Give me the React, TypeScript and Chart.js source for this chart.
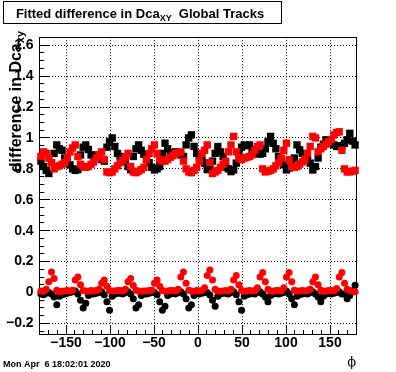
import React, { useEffect, useRef } from 'react';
import { Chart, registerables } from 'chart.js';

Chart.register(...registerables);

// ---------- data ----------
const PHI = [
  -178.5, -175.5, -172.5, -169.5, -166.5, -163.5, -160.5, -157.5, -154.5, -151.5,
  -148.5, -145.5, -142.5, -139.5, -136.5, -133.5, -130.5, -127.5, -124.5, -121.5,
  -118.5, -115.5, -112.5, -109.5, -106.5, -103.5, -100.5, -97.5, -94.5, -91.5,
  -88.5, -85.5, -82.5, -79.5, -76.5, -73.5, -70.5, -67.5, -64.5, -61.5,
  -58.5, -55.5, -52.5, -49.5, -46.5, -43.5, -40.5, -37.5, -34.5, -31.5,
  -28.5, -25.5, -22.5, -19.5, -16.5, -13.5, -10.5, -7.5, -4.5, -1.5,
  1.5, 4.5, 7.5, 10.5, 13.5, 16.5, 19.5, 22.5, 25.5, 28.5,
  31.5, 34.5, 37.5, 40.5, 43.5, 46.5, 49.5, 52.5, 55.5, 58.5,
  61.5, 64.5, 67.5, 70.5, 73.5, 76.5, 79.5, 82.5, 85.5, 88.5,
  91.5, 94.5, 97.5, 100.5, 103.5, 106.5, 109.5, 112.5, 115.5, 118.5,
  121.5, 124.5, 127.5, 130.5, 133.5, 136.5, 139.5, 142.5, 145.5, 148.5,
  151.5, 154.5, 157.5, 160.5, 163.5, 166.5, 169.5, 172.5, 175.5, 178.5,
];

const BLACK_SQUARES = [
  0.85, 0.815, 0.79, 0.77, 0.84, 0.9, 0.955, 0.93, 0.92, 0.87,
  0.85, 0.826, 0.8, 0.79, 0.795, 0.89, 0.94, 0.955, 0.925, 0.89,
  0.88, 0.89, 0.875, 0.86, 0.85, 0.94, 0.975, 1.0, 0.945, 0.9,
  0.88, 0.865, 0.85, 0.815, 0.795, 0.88, 0.93, 0.955, 0.92, 0.895,
  0.86, 0.84, 0.81, 0.793, 0.8, 0.815, 0.9, 0.966, 0.93, 0.9,
  0.905, 0.91, 0.9, 0.89, 0.88, 0.955, 1.0, 1.02, 0.945, 0.9,
  0.87, 0.86, 0.837, 0.795, 0.815, 0.85, 0.9, 0.945, 0.91, 0.88,
  0.81, 0.8, 0.782, 0.793, 0.837, 0.9, 0.94, 0.955, 0.95, 0.955,
  0.925, 0.91, 0.9, 0.895, 0.9, 0.93, 0.975, 1.01, 0.965, 0.93,
  0.88, 0.85, 0.826, 0.793, 0.805, 0.84, 0.87, 0.955, 0.923, 0.9,
  0.88, 0.86, 0.837, 0.793, 0.815, 0.87, 0.94, 0.96, 0.988, 0.975,
  0.966, 0.955, 0.945, 0.945, 0.95, 0.965, 0.988, 1.03, 0.98, 0.955,
];

const RED_SQUARES = [
  0.88, 0.91, 0.9, 0.87, 0.84, 0.8, 0.815, 0.82, 0.83, 0.84,
  0.87, 0.91, 0.935, 0.955, 0.88, 0.83, 0.815, 0.81, 0.815, 0.83,
  0.845, 0.87, 0.89, 0.91, 0.86, 0.78, 0.775, 0.78, 0.8, 0.82,
  0.84, 0.855, 0.875, 0.9, 0.815, 0.78, 0.775, 0.785, 0.795, 0.81,
  0.86, 0.9, 0.93, 0.955, 0.9, 0.86, 0.85, 0.85, 0.86, 0.875,
  0.885, 0.9, 0.905, 0.91, 0.85, 0.8, 0.78, 0.775, 0.79, 0.81,
  0.85, 0.9, 0.92, 0.955, 0.84, 0.77, 0.78, 0.79, 0.81, 0.83,
  0.85, 0.91, 0.955, 1.01, 0.91, 0.87, 0.86, 0.87, 0.875, 0.88,
  0.89, 0.92, 0.945, 0.955, 0.8, 0.78, 0.785, 0.79, 0.8, 0.82,
  0.84, 0.87, 0.92, 0.966, 0.86, 0.815, 0.81, 0.815, 0.83, 0.845,
  0.86, 0.9, 0.945, 1.01, 1.0, 0.91, 0.93, 0.945, 0.96, 0.975,
  0.99, 1.02, 1.035, 1.04, 0.92, 0.8, 0.78, 0.78, 0.785, 0.79,
];

const BLACK_CIRCLES = [
  -0.01, -0.015, -0.005, 0.0, -0.01, -0.03, -0.08, -0.025, -0.015, -0.01,
  -0.005, 0.0, 0.005, 0.01, -0.01, -0.05, -0.1, -0.07, -0.02, -0.01,
  -0.01, -0.005, 0.0, 0.005, -0.015, -0.06, -0.115, -0.025, -0.01, -0.005,
  -0.005, -0.01, 0.0, 0.005, -0.01, -0.04, -0.1, -0.08, -0.02, -0.01,
  -0.01, -0.005, 0.0, 0.0, -0.015, -0.06, -0.115, -0.09, -0.02, -0.01,
  -0.005, -0.01, 0.0, 0.005, -0.01, -0.04, -0.1, -0.08, -0.02, -0.005,
  -0.01, -0.005, 0.0, 0.0, -0.017, -0.05, -0.09, -0.025, -0.01, -0.005,
  -0.005, -0.01, 0.0, 0.005, -0.015, -0.06, -0.115, -0.025, -0.015, -0.01,
  -0.005, -0.01, 0.0, 0.005, -0.01, -0.03, -0.06, -0.02, -0.01, -0.005,
  -0.01, -0.005, 0.0, 0.01, -0.01, -0.04, -0.08, -0.025, -0.015, -0.01,
  -0.005, -0.01, 0.0, 0.005, -0.01, -0.03, -0.06, -0.025, -0.01, -0.005,
  -0.01, -0.005, 0.0, 0.005, -0.01, -0.01, -0.04, -0.02, 0.01, 0.047,
];

const RED_CIRCLES = [
  0.01, 0.008, 0.02, 0.07, 0.133, 0.09, 0.015, 0.005, 0.008, 0.01,
  0.012, 0.01, 0.015, 0.08, 0.1, 0.05, 0.012, 0.01, 0.008, 0.012,
  0.01, 0.012, 0.02, 0.06, 0.08, 0.04, 0.012, 0.01, 0.01, 0.012,
  0.012, 0.01, 0.02, 0.07, 0.09, 0.045, 0.015, 0.01, 0.008, 0.01,
  0.01, 0.012, 0.015, 0.06, 0.08, 0.04, 0.012, 0.008, 0.01, 0.012,
  0.012, 0.01, 0.02, 0.1, 0.133, 0.06, 0.015, 0.01, 0.008, 0.012,
  0.01, 0.012, 0.03, 0.11, 0.145, 0.08, 0.02, 0.01, 0.008, 0.01,
  0.012, 0.01, 0.02, 0.08, 0.11, 0.05, 0.012, 0.008, 0.01, 0.012,
  0.01, 0.012, 0.03, 0.1, 0.13, 0.07, 0.02, 0.01, 0.008, 0.012,
  0.012, 0.01, 0.03, 0.1, 0.13, 0.07, 0.015, 0.01, 0.01, 0.012,
  0.01, 0.012, 0.02, 0.07, 0.1, 0.05, 0.015, 0.008, 0.01, 0.012,
  0.012, 0.01, 0.025, 0.1, 0.13, 0.06, 0.02, 0.012, 0.008, 0.004,
];

const X_TICKS = [-150, -100, -50, 0, 50, 100, 150];
const Y_TICKS = [-0.2, 0, 0.2, 0.4, 0.6, 0.8, 1, 1.2, 1.4, 1.6];
const X_RANGE = [-180, 180];
const Y_RANGE = [-0.274, 1.652];

const TITLE_MAIN = 'Fitted difference in Dca';
const TITLE_SUB = 'XY';
const TITLE_TAIL = '  Global Tracks';
const Y_TITLE_MAIN = 'difference in Dca';
const Y_TITLE_SUB = 'xy';
const X_TITLE = '\u03D5';
const DATE_TEXT = 'Mon Apr  6 18:02:01 2020';

const FAMILY = "'Liberation Sans', Arial, Helvetica, sans-serif";

const fmt = (v: number | string) => {
  const r = Math.round(Number(v) * 1000) / 1000;
  return r < 0 ? '\u2212' + String(-r) : String(r);
};

const align = (p: number) => Math.round(p - 0.5) + 0.5;

const rootPlugin = {
  id: 'rootStyle',
  beforeDatasetsDraw(chart: any) {
    const { ctx, chartArea: a } = chart;
    const xs = chart.scales.x;
    const ys = chart.scales.y;
    const L = align(a.left), R = align(a.right), T = align(a.top), B = align(a.bottom);
    ctx.save();
    ctx.strokeStyle = '#000';
    ctx.lineWidth = 1;
    ctx.setLineDash([]);
    ctx.beginPath();
    for (let k = -18; k <= 18; k++) {
      const v = k * 10;
      if (v <= X_RANGE[0] || v >= X_RANGE[1]) continue;
      const major = X_TICKS.some((t) => Math.abs(t - v) < 1e-6);
      const px = align(xs.getPixelForValue(v));
      const len = major ? 9 : 4.5;
      ctx.moveTo(px, B);
      ctx.lineTo(px, B - len);
    }
    for (let k = -6; k <= 34; k++) {
      const v = k * 0.05;
      if (v <= Y_RANGE[0] || v >= Y_RANGE[1]) continue;
      const major = Y_TICKS.some((t) => Math.abs(t - v) < 1e-6);
      const py = align(ys.getPixelForValue(v));
      const len = major ? 9.5 : 4.75;
      ctx.moveTo(L, py);
      ctx.lineTo(L + len, py);
    }
    ctx.stroke();
    ctx.strokeRect(L, T, R - L, B - T);
    ctx.restore();
  },
  afterDraw(chart: any) {
    const { ctx } = chart;
    ctx.save();
    ctx.setLineDash([]);
    // title box
    ctx.fillStyle = '#fff';
    ctx.fillRect(3.5, 1.5, 278, 22);
    ctx.strokeStyle = '#000';
    ctx.lineWidth = 1;
    ctx.strokeRect(3.5, 1.5, 278, 22);
    const mainFont = `bold 13px ${FAMILY}`;
    const subFont = `bold 9px ${FAMILY}`;
    ctx.fillStyle = '#000';
    ctx.textBaseline = 'alphabetic';
    ctx.textAlign = 'left';
    ctx.font = mainFont;
    const w1 = ctx.measureText(TITLE_MAIN).width;
    const w3 = ctx.measureText(TITLE_TAIL).width;
    ctx.font = subFont;
    const w2 = ctx.measureText(TITLE_SUB).width;
    const tx = 140 - (w1 + w2 + w3) / 2;
    ctx.font = mainFont;
    ctx.fillText(TITLE_MAIN, tx, 17.5);
    ctx.font = subFont;
    ctx.fillText(TITLE_SUB, tx + w1, 21);
    ctx.font = mainFont;
    ctx.fillText(TITLE_TAIL, tx + w1 + w2, 17.5);

    // y-axis title (rotated, right-aligned at top)
    const yMain = `bold 16px ${FAMILY}`;
    const ySub = `bold 11px ${FAMILY}`;
    ctx.font = yMain;
    const yw1 = ctx.measureText(Y_TITLE_MAIN).width;
    ctx.font = ySub;
    const yw2 = ctx.measureText(Y_TITLE_SUB).width;
    ctx.save();
    ctx.translate(21, 31);
    ctx.rotate(-Math.PI / 2);
    const start = -(yw1 + yw2);
    ctx.font = yMain;
    ctx.fillText(Y_TITLE_MAIN, start, 0);
    ctx.font = ySub;
    ctx.fillText(Y_TITLE_SUB, start + yw1, 3);
    ctx.restore();

    // x-axis title
    ctx.font = `13px 'DejaVu Serif', serif`;
    ctx.textAlign = 'right';
    ctx.fillText(X_TITLE, 356, 366);

    // date stamp
    ctx.font = `bold 9px ${FAMILY}`;
    ctx.textAlign = 'left';
    ctx.fillText(DATE_TEXT, 3, 367);
    ctx.restore();
  },
};

export default function App() {
  const ref = useRef<HTMLCanvasElement | null>(null);

  useEffect(() => {
    if (!ref.current) return;
    const mk = (ys: number[]) => PHI.map((x, i) => ({ x, y: ys[i] }));
    const tickFont = { family: FAMILY, size: 14, weight: 'bold' as const };
    // Chart.js paints the lowest "order" last (on top): red is painted over black.
    const chart = new Chart(ref.current, {
      type: 'scatter',
      data: {
        datasets: [
          {
            label: 'black squares',
            data: mk(BLACK_SQUARES),
            pointStyle: 'rect',
            pointRadius: 5.2,
            pointBackgroundColor: '#000000',
            pointBorderWidth: 0,
            clip: false,
            order: 2,
          },
          {
            label: 'red squares',
            data: mk(RED_SQUARES),
            pointStyle: 'rect',
            pointRadius: 5.2,
            pointBackgroundColor: '#ff0000',
            pointBorderWidth: 0,
            clip: false,
            order: 1,
          },
          {
            label: 'black circles',
            data: mk(BLACK_CIRCLES),
            pointStyle: 'circle',
            pointRadius: 3.5,
            pointBackgroundColor: '#000000',
            pointBorderWidth: 0,
            clip: false,
            order: 2,
          },
          {
            label: 'red circles',
            data: mk(RED_CIRCLES),
            pointStyle: 'circle',
            pointRadius: 3.5,
            pointBackgroundColor: '#ff0000',
            pointBorderWidth: 0,
            clip: false,
            order: 1,
          },
        ] as any,
      },
      options: {
        responsive: false,
        animation: false,
        devicePixelRatio: 1,
        events: [],
        layout: { padding: { left: 0, right: 39.6, top: 37.2, bottom: 0 } },
        plugins: {
          legend: { display: false },
          tooltip: { enabled: false },
          title: { display: false },
        },
        scales: {
          x: {
            type: 'linear',
            min: X_RANGE[0],
            max: X_RANGE[1],
            afterFit: (s: any) => {
              s.height = 37.2;
            },
            afterBuildTicks: (s: any) => {
              s.ticks = X_TICKS.map((v) => ({ value: v }));
            },
            ticks: {
              callback: fmt,
              font: tickFont,
              color: '#000',
              padding: 0,
              autoSkip: false,
              maxRotation: 0,
              minRotation: 0,
            },
            grid: { color: '#000', lineWidth: 1, drawTicks: false },
            border: { display: false, dash: [1, 2] },
          },
          y: {
            type: 'linear',
            min: Y_RANGE[0],
            max: Y_RANGE[1],
            afterFit: (s: any) => {
              s.width = 39.6;
            },
            afterBuildTicks: (s: any) => {
              s.ticks = Y_TICKS.map((v) => ({ value: v }));
            },
            ticks: {
              callback: fmt,
              font: tickFont,
              color: '#000',
              padding: 6,
              autoSkip: false,
            },
            grid: { color: '#000', lineWidth: 1, drawTicks: false },
            border: { display: false, dash: [1, 2] },
          },
        },
      } as any,
      plugins: [rootPlugin],
    });
    return () => chart.destroy();
  }, []);

  return (
    <div
      style={{
        position: 'fixed',
        left: 0,
        top: 0,
        width: 396,
        height: 372,
        background: '#fff',
      }}
    >
      <canvas ref={ref} width={396} height={372} style={{ display: 'block', width: 396, height: 372 }} />
    </div>
  );
}
